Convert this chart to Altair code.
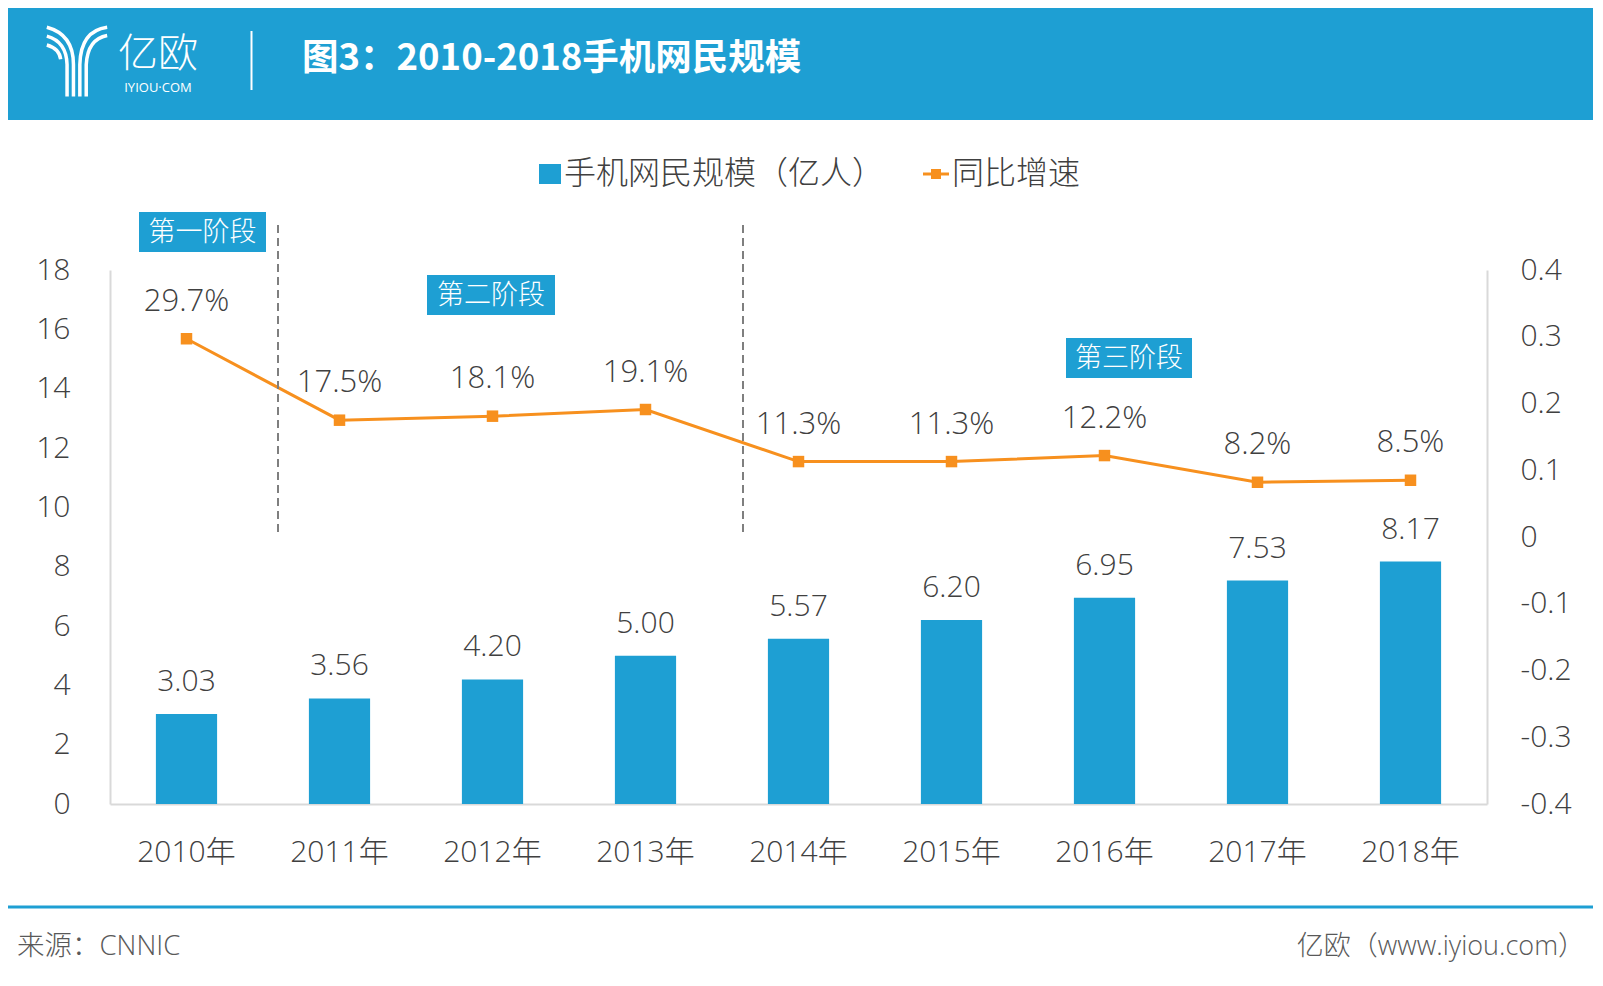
import altair as alt
import pandas as pd

# ---------------- data ----------------
years = ["2010年", "2011年", "2012年", "2013年", "2014年", "2015年", "2016年", "2017年", "2018年"]
users = [3.03, 3.56, 4.20, 5.00, 5.57, 6.20, 6.95, 7.53, 8.17]
growth = [0.297, 0.175, 0.181, 0.191, 0.113, 0.113, 0.122, 0.082, 0.085]
stages = ["第一阶段", "第二阶段", "第三阶段"]
left_ticks = [0, 2, 4, 6, 8, 10, 12, 14, 16, 18]
right_ticks = [-0.4, -0.3, -0.2, -0.1, 0, 0.1, 0.2, 0.3, 0.4]
title_text = "图3：2010-2018手机网民规模"
legend_bar = "手机网民规模（亿人）"
legend_line = "同比增速"
source_text = "来源：CNNIC"
credit_text = "亿欧（www.iyiou.com）"

df = pd.DataFrame({"year": years, "users": users, "growth": growth})
df["users_label"] = [f"{v:.2f}" for v in users]
df["growth_label"] = [f"{v * 100:.1f}%" for v in growth]
one = pd.DataFrame({"k": [0]})

# ---------------- styles ----------------
BLUE = "#1E9FD3"
ORANGE = "#F7901E"
TXT = "#404040"
AXIS = "#D9D9D9"
FONT = "Open Sans, Noto Sans CJK SC, sans-serif"
CJK = "Noto Sans CJK SC, sans-serif"
W, H = 1377, 534

x_enc = alt.X(
    "year:N", sort=years,
    scale=alt.Scale(paddingInner=0.6, paddingOuter=0.3),
    axis=alt.Axis(title=None, labelAngle=0, labelFontSize=30, labelColor=TXT,
                  labelFont=FONT, labelFontWeight=300, ticks=False, tickSize=0,
                  labelPadding=48, labelBaseline="middle", domainColor=AXIS,
                  domainWidth=2, grid=False),
)
y_scale = alt.Scale(domain=[0, 18], nice=False, zero=True)
g_scale = alt.Scale(domain=[-0.4, 0.4], nice=False, zero=False)

y_left = alt.Y("users:Q", scale=y_scale, axis=alt.Axis(
    orient="left", values=left_ticks, title=None, labelFontSize=30, labelColor=TXT,
    labelFont=FONT, labelFontWeight=300, labelPadding=40, ticks=False, tickSize=0,
    domainColor=AXIS, domainWidth=2, grid=False))
y_right = alt.Y("growth:Q", scale=g_scale, axis=alt.Axis(
    orient="right", values=right_ticks, title=None, labelFontSize=30, labelColor=TXT,
    labelFont=FONT, labelFontWeight=300, labelPadding=33, ticks=False, tickSize=0,
    domainColor=AXIS, domainWidth=2, grid=False,
    labelExpr="datum.value < 0 ? '-' + format(-datum.value, '.1f') : (datum.value == 0 ? '0' : format(datum.value, '.1f'))"))

base = alt.Chart(df)
bars = base.mark_bar(color=BLUE).encode(x=x_enc, y=y_left)
bar_text = base.mark_text(dy=-32, fontSize=30, color=TXT, font=FONT, fontWeight=300,
                          baseline="middle").encode(
    x=x_enc, y=alt.Y("users:Q", scale=y_scale, axis=None), text="users_label:N")
line = base.mark_line(color=ORANGE, strokeWidth=3).encode(x=x_enc, y=y_right)
pts = base.mark_point(shape="square", filled=True, size=132, color=ORANGE, opacity=1).encode(
    x=x_enc, y=alt.Y("growth:Q", scale=g_scale, axis=None))
line_text = base.mark_text(dy=-37, fontSize=31, color=TXT, font=FONT, fontWeight=300,
                           baseline="middle").encode(
    x=x_enc, y=alt.Y("growth:Q", scale=g_scale, axis=None), text="growth_label:N")

a = alt.Chart(one)
layers = [bars, bar_text, line, pts, line_text]

# dashed stage separators
for xp in [168, 633]:
    layers.append(a.mark_rule(color="#7F7F7F", strokeWidth=2, strokeDash=[8, 5]).encode(
        x=alt.value(xp), y=alt.value(-45), y2=alt.value(267)))

# stage boxes
boxes = [(29, 156, -58, -18), (317, 445, 5, 45), (956, 1082, 68, 108)]
for name, (x1, x2, y1, y2) in zip(stages, boxes):
    layers.append(a.mark_rect(color=BLUE).encode(
        x=alt.value(x1), x2=alt.value(x2), y=alt.value(y1), y2=alt.value(y2)))
    layers.append(a.mark_text(text=name, fontSize=27, color="white", font=CJK,
                              fontWeight=300, align="center", baseline="middle").encode(
        x=alt.value((x1 + x2) / 2), y=alt.value((y1 + y2) / 2 + 1)))

# header band
layers.append(a.mark_rect(color=BLUE).encode(
    x=alt.value(-102), x2=alt.value(1490), y=alt.value(-262), y2=alt.value(-150)))
logo_path = ("M-0.85,-0.95 Q-0.1,-0.75 -0.1,0.1 L-0.1,1 "
             "M-0.85,-0.7 Q-0.3,-0.55 -0.28,0.1 L-0.28,1 "
             "M-0.85,-0.45 Q-0.5,-0.35 -0.46,-0.05 "
             "M0.85,-0.95 Q0.1,-0.85 0.08,0.1 L0.08,1 "
             "M0.85,-0.72 Q0.3,-0.62 0.26,0.1 L0.26,1")
layers.append(a.mark_point(shape=logo_path, filled=False, size=5041, color="white",
                           strokeWidth=3.5, opacity=1).encode(
    x=alt.value(-33), y=alt.value(-209)))
layers.append(a.mark_text(text="亿欧", fontSize=40, color="white", font=CJK, fontWeight=300,
                          align="center", baseline="middle").encode(
    x=alt.value(48), y=alt.value(-215)))
layers.append(a.mark_text(text="IYIOU·COM", fontSize=13, color="white", font=FONT,
                          align="center", baseline="middle").encode(
    x=alt.value(48), y=alt.value(-182)))
layers.append(a.mark_rule(color="white", strokeWidth=2).encode(
    x=alt.value(141.5), y=alt.value(-239), y2=alt.value(-180)))
layers.append(a.mark_text(text=title_text, fontSize=36.5, color="white", font=CJK,
                          fontWeight="bold", align="left", baseline="middle").encode(
    x=alt.value(192), y=alt.value(-211)))

# legend
layers.append(a.mark_rect(color=BLUE).encode(
    x=alt.value(429), x2=alt.value(451), y=alt.value(-106), y2=alt.value(-86)))
layers.append(a.mark_text(text=legend_bar, fontSize=32, color=TXT, font=CJK, fontWeight=300,
                          align="left", baseline="middle").encode(
    x=alt.value(454), y=alt.value(-96)))
layers.append(a.mark_rule(color=ORANGE, strokeWidth=3).encode(
    x=alt.value(813), x2=alt.value(839), y=alt.value(-96)))
layers.append(a.mark_point(shape="square", filled=True, size=100, color=ORANGE, opacity=1).encode(
    x=alt.value(826), y=alt.value(-96)))
layers.append(a.mark_text(text=legend_line, fontSize=32, color=TXT, font=CJK, fontWeight=300,
                          align="left", baseline="middle").encode(
    x=alt.value(842), y=alt.value(-96)))

# footer
layers.append(a.mark_rule(color=BLUE, strokeWidth=3).encode(
    x=alt.value(-102), x2=alt.value(1490), y=alt.value(637)))
layers.append(a.mark_text(text=source_text, fontSize=27.5, color="#595959", font=FONT,
                          fontWeight=300, align="left", baseline="middle").encode(
    x=alt.value(-93), y=alt.value(677)))
layers.append(a.mark_text(text=credit_text, fontSize=27, color="#595959", font=FONT,
                          fontWeight=300, align="right", baseline="middle").encode(
    x=alt.value(1475), y=alt.value(677)))

chart = alt.layer(*layers).resolve_scale(y="independent").properties(
    width=W, height=H,
    autosize=alt.AutoSizeParams(type="none"),
    padding={"left": 102, "top": 262, "right": 106, "bottom": 164},
).configure_view(stroke=None)

chart.save("out.html", embed_options={"renderer": "svg", "actions": False})
